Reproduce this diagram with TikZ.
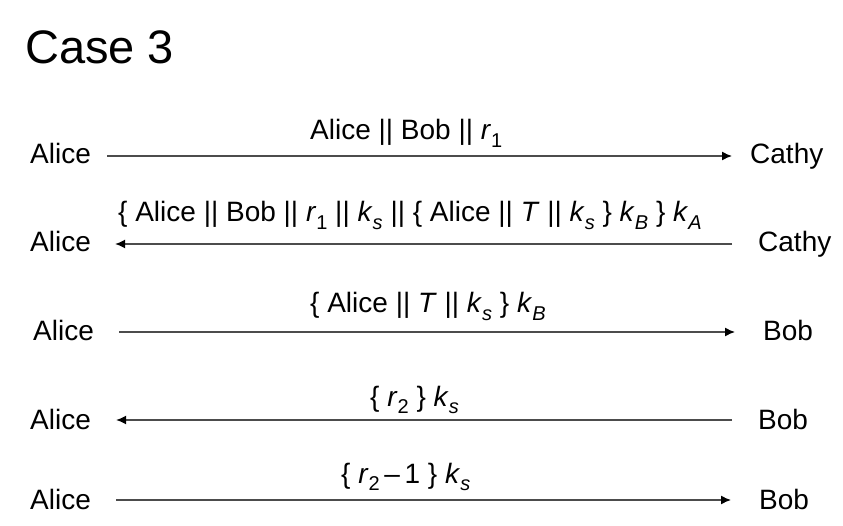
\documentclass[tikz,border=0pt]{standalone}
\usepackage{fontspec}
\setmainfont{Liberation Sans}
\usetikzlibrary{arrows.meta}
\newcommand{\lo}[1]{\raisebox{-0.26em}{\fontsize{20}{20}\selectfont #1}}
\begin{document}
\begin{tikzpicture}[x=1pt, y=-1pt,
    party/.style={inner sep=0pt, anchor=base west, font=\fontsize{28}{34}\selectfont},
    note/.style={inner sep=0pt, anchor=base west, font=\fontsize{28}{34}\selectfont},
    msg/.style={draw=black!70, line width=1.4pt, -{Latex[length=10pt,width=9pt,color=black]}}]
        \useasboundingbox (0,0) rectangle (843,526);
        \node[note, font=\fontsize{47}{56}\selectfont] (title) at (25,64) {Case 3};

        % Message 1: Alice to Cathy
        \node[party] (a1) at (30,164) {Alice};
        \node[party] (c1) at (750,164) {Cathy};
        \draw[msg, shorten <=16pt, shorten >=18pt] ([yshift=8pt]a1.base east) -- ([yshift=8pt]c1.base west);
        \node[note] (m1) at (310,140) {Alice || Bob || \textit{r}\lo{1}};

        % Message 2: Cathy to Alice
        \node[party] (a2) at (30,252) {Alice};
        \node[party] (c2) at (758,252) {Cathy};
        \draw[msg, shorten <=26pt, shorten >=24pt] ([yshift=8pt]c2.base west) -- ([yshift=8pt]a2.base east);
        \node[note] (m2) at (118,222) {\{ Alice || Bob || \textit{r}\lo{1} || \textit{k}\lo{\textit{s}} || \{ Alice || \textit{T} || \textit{k}\lo{\textit{s}} \} \textit{k}\lo{\textit{B}} \} \textit{k}\lo{\textit{A}}};

        % Message 3: Alice to Bob
        \node[party] (a3) at (33,341) {Alice};
        \node[party] (b3) at (763,341) {Bob};
        \draw[msg, shorten <=25pt, shorten >=28pt] ([yshift=9pt]a3.base east) -- ([yshift=9pt]b3.base west);
        \node[note] (m3) at (310,313) {\{ Alice || \textit{T} || \textit{k}\lo{\textit{s}} \} \textit{k}\lo{\textit{B}}};

        % Message 4: Bob to Alice
        \node[party] (a4) at (30,429) {Alice};
        \node[party] (b4) at (758,429) {Bob};
        \draw[msg, shorten <=26pt, shorten >=25pt] ([yshift=9pt]b4.base west) -- ([yshift=9pt]a4.base east);
        \node[note] (m4) at (370,406) {\{ \textit{r}\lo{2} \} \textit{k}\lo{\textit{s}}};

        % Message 5: Alice to Bob
        \node[party] (a5) at (30,509) {Alice};
        \node[party] (b5) at (759,509) {Bob};
        \draw[msg, shorten <=25pt, shorten >=28pt] ([yshift=9pt]a5.base east) -- ([yshift=9pt]b5.base west);
        \node[note] (m5) at (341,483) {\{ \textit{r}\lo{2}\,–\,1 \} \textit{k}\lo{\textit{s}}};
    \end{tikzpicture}
\end{document}
